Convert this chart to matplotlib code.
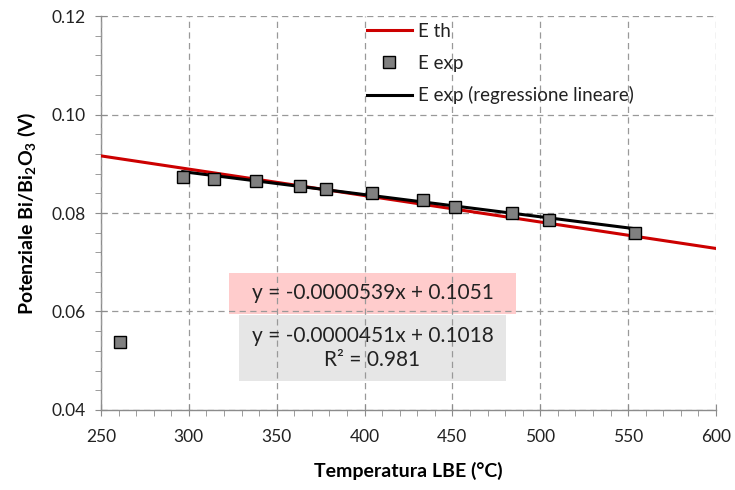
import matplotlib
matplotlib.use("Agg")
import matplotlib.pyplot as plt
from matplotlib.ticker import MultipleLocator, FormatStrFormatter
from matplotlib.patches import Rectangle

# measured points (E exp)
temp_exp = [260.8, 296.5, 314.5, 338.5, 363.5, 378.0, 404.5, 433.5, 451.5, 484.0, 505.0, 554.0]
e_exp = [0.0538, 0.0874, 0.0870, 0.0864, 0.0855, 0.0848, 0.0841, 0.0827, 0.0813, 0.0799, 0.0785, 0.0759]

# theoretical line (E th), end points
temp_th = [250, 600]
e_th = [0.0916, 0.0728]

# linear regression of the experimental points, end points
temp_fit = [296.5, 554.0]
e_fit = [0.0884, 0.0768]

plt.rcParams['font.family'] = ['Lato', 'DejaVu Sans']
plt.rcParams['mathtext.fontset'] = 'custom'
plt.rcParams['mathtext.rm'] = 'Lato:bold'
plt.rcParams['mathtext.it'] = 'Lato:bold'
plt.rcParams['mathtext.bf'] = 'Lato:bold'

fig = plt.figure(figsize=(7.35, 4.9), dpi=100)
ax = fig.add_axes([0.1374, 0.1633, 0.8367, 0.804])

ax.plot(temp_th, e_th, color="#CC0000", lw=2.2, label="E th", zorder=4)
ax.plot(temp_exp, e_exp, ls="none", marker="s", ms=9, mfc="#808080", mec="black",
        mew=1.0, label="E exp", zorder=5)
ax.plot(temp_fit, e_fit, color="black", lw=2.2, label="E exp (regressione lineare)", zorder=4)

ax.set_xlim(250, 600)
ax.set_ylim(0.04, 0.12)
ax.xaxis.set_major_locator(MultipleLocator(50))
ax.xaxis.set_minor_locator(MultipleLocator(10))
ax.yaxis.set_major_locator(MultipleLocator(0.02))
ax.yaxis.set_minor_locator(MultipleLocator(0.004))
ax.yaxis.set_major_formatter(FormatStrFormatter("%.2f"))

ax.grid(True, which="major", ls=(0, (5, 3.5)), color="#999999", lw=0.9, zorder=2)
ax.set_axisbelow(False)
for s in ["top", "right"]:
    ax.spines[s].set_visible(False)
for s in ["left", "bottom"]:
    ax.spines[s].set_color("#8C8C8C")
    ax.spines[s].set_linewidth(1.0)
ax.tick_params(which="major", direction="inout", length=8, color="#8C8C8C",
               labelsize=12.5, labelcolor="#222222")
ax.tick_params(axis="x", which="major", pad=10)
ax.tick_params(axis="y", which="major", pad=7)
ax.tick_params(which="minor", direction="out", length=4, color="#8C8C8C")

ax.set_xlabel("Temperatura LBE (°C)", fontsize=14, fontweight="bold", labelpad=12)
ax.set_ylabel("Potenziale Bi/Bi$_2$O$_3$ (V)", fontsize=14, fontweight="bold", labelpad=10)

# regression equation boxes
ax.add_patch(Rectangle((323, 0.0595), 163, 0.0083, facecolor="#FFCCCC",
                       edgecolor="none", zorder=1))
ax.add_patch(Rectangle((328.5, 0.0459), 152, 0.0134, facecolor="#E6E6E6",
                       edgecolor="none", zorder=1))
ax.text(404.5, 0.0637, "y = -0.0000539x + 0.1051", ha="center", va="center",
        fontsize=15, color="#222222", zorder=3)
ax.text(404.5, 0.0526, "y = -0.0000451x + 0.1018\nR² = 0.981", ha="center",
        va="center", fontsize=15, color="#222222", linespacing=1.2, zorder=3)

leg = ax.legend(loc="upper left", bbox_to_anchor=(0.405, 1.025), frameon=False,
                fontsize=13.5, handlelength=2.4, handletextpad=0.35, labelspacing=0.78)
for t in leg.get_texts():
    t.set_color("#222222")

fig.savefig("out.png", dpi=100)
